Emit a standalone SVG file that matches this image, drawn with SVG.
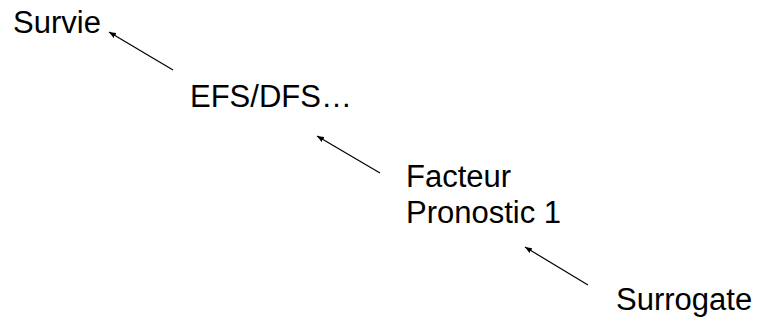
<svg xmlns="http://www.w3.org/2000/svg" width="760" height="324" viewBox="0 0 760 324">
  <style>
    .lbl { font-family: "Liberation Sans", Arial, sans-serif; font-size: 31px; fill: #000; }
    .edge { stroke: #000; stroke-width: 1.2; fill: none; marker-end: url(#tip); }
  </style>
  <defs>
    <marker id="tip" viewBox="0 0 10 8" refX="10" refY="4" markerWidth="7" markerHeight="6" markerUnits="userSpaceOnUse" orient="auto">
      <path d="M0,0 L10,4 L0,8 Z" fill="#000"/>
    </marker>
  </defs>
  <rect width="760" height="324" fill="#fff"/>

  <g id="connectors">
    <line class="edge" x1="173" y1="70" x2="109" y2="32"/>
    <line class="edge" x1="380" y1="173" x2="317" y2="136"/>
    <line class="edge" x1="588" y1="285" x2="525" y2="247"/>
  </g>

  <g id="survie">
    <text class="lbl" x="13" y="33">Survie</text>
  </g>
  <g id="efs-dfs">
    <text class="lbl" x="190" y="107">EFS/DFS…</text>
  </g>
  <g id="facteur-pronostic">
    <text class="lbl" x="406" y="187">Facteur</text>
    <text class="lbl" x="406" y="223">Pronostic 1</text>
  </g>
  <g id="surrogate">
    <text class="lbl" x="616" y="310">Surrogate</text>
  </g>
</svg>
